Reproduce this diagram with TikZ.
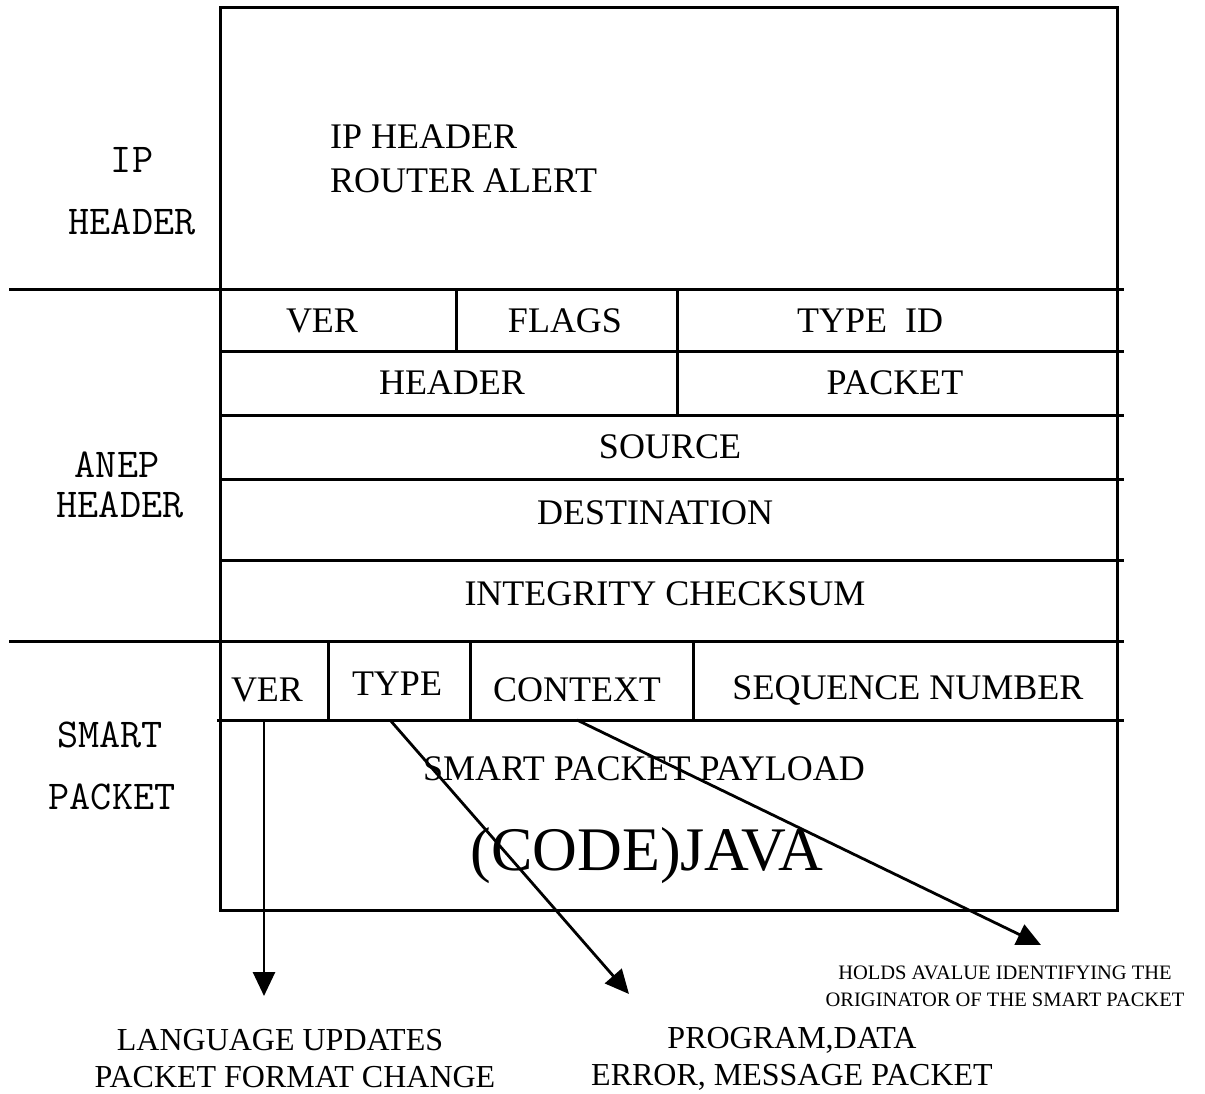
\documentclass[tikz,border=0pt]{standalone}
\usepackage{fontspec}
\setmainfont{Liberation Serif}
\usetikzlibrary{arrows.meta}
\begin{document}
\begin{tikzpicture}[x=1pt,y=-1pt,
  grid/.style={line width=3pt},
  cell/.style={font=\fontsize{36}{40}\selectfont, inner sep=0pt, anchor=center},
  side/.style={font=\ttfamily\fontsize{41}{44}\selectfont, inner sep=0pt, anchor=center},
  big/.style={font=\fontsize{62}{66}\selectfont, inner sep=0pt, anchor=center},
  note/.style={font=\fontsize{32}{36}\selectfont, inner sep=0pt, anchor=center},
  small/.style={font=\fontsize{20.5}{24}\selectfont, inner sep=0pt, anchor=center},
  arr/.style={line width=2.8pt, -{Triangle[length=24pt,width=22pt]}}]
\useasboundingbox (0,0) rectangle (1205,1093);
% outer box
\draw[grid] (220,7) rectangle (1117,910);
% horizontal lines
\draw[grid] (9,289) -- (1124,289);
\draw[grid] (220,351) -- (1124,351);
\draw[grid] (220,415) -- (1124,415);
\draw[grid] (220,479) -- (1124,479);
\draw[grid] (220,560) -- (1124,560);
\draw[grid] (9,641) -- (1124,641);
\draw[grid] (217,720) -- (1124,720);
% vertical dividers
\draw[grid] (456,289) -- (456,351);
\draw[grid] (677,289) -- (677,415);
\draw[grid] (328,641) -- (328,720);
\draw[grid] (470,641) -- (470,720);
\draw[grid] (693,641) -- (693,720);
% side labels
\node[side] (ip1) at (132,160) {IP};
\node[side] (ip2) at (132,222) {HEADER};
\node[side] (an1) at (117,465) {ANEP};
\node[side] (an2) at (120,505) {HEADER};
\node[side] (sp1) at (110,735) {SMART};
\node[side] (sp2) at (112,797) {PACKET};
% IP header content
\node[cell, anchor=west] (iph) at (330,137) {IP HEADER};
\node[cell, anchor=west] (ipr) at (330,181) {ROUTER ALERT};
% ANEP cells
\node[cell] (aver) at (322,321) {VER};
\node[cell] (aflags) at (565,321) {FLAGS};
\node[cell] (atype) at (870,321) {TYPE\ \ ID};
\node[cell] (ahead) at (452,383) {HEADER};
\node[cell] (apack) at (895,383) {PACKET};
\node[cell] (asrc) at (670,447) {SOURCE};
\node[cell] (adst) at (655,513) {DESTINATION};
\node[cell] (aint) at (665,594) {INTEGRITY CHECKSUM};
% smart packet cells
\node[cell] (sver) at (267,690) {VER};
\node[cell] (stype) at (397,684) {TYPE};
\node[cell] (sctx) at (577,690) {CONTEXT};
\node[cell] (sseq) at (908,690) {SEQUENCE NUMBER};
\node[cell] (spay) at (644,769) {SMART PACKET PAYLOAD};
\node[big] (scode) at (647,856) {(CODE)JAVA};
% notes
\node[small] (n3a) at (1005,973) {HOLDS AVALUE IDENTIFYING THE};
\node[small] (n3b) at (1005,1000) {ORIGINATOR OF THE SMART PACKET};
\node[note] (n1a) at (280,1040) {LANGUAGE UPDATES};
\node[note] (n1b) at (295,1077) {PACKET FORMAT CHANGE};
\node[note] (n2a) at (792,1040) {PROGRAM,DATA};
\node[note] (n2b) at (792,1077) {ERROR, MESSAGE PACKET};
% arrows
\coordinate (a1s) at (264,720);
\coordinate (a1e) at (264,996);
\coordinate (a2s) at (390,720);
\coordinate (a2e) at (629,994);
\coordinate (a3s) at (577,720);
\coordinate (a3e) at (1041,945);
\draw[arr] (a1s) -- (a1e);
\draw[arr] (a2s) -- (a2e);
\draw[arr] (a3s) -- (a3e);
\end{tikzpicture}
\end{document}
